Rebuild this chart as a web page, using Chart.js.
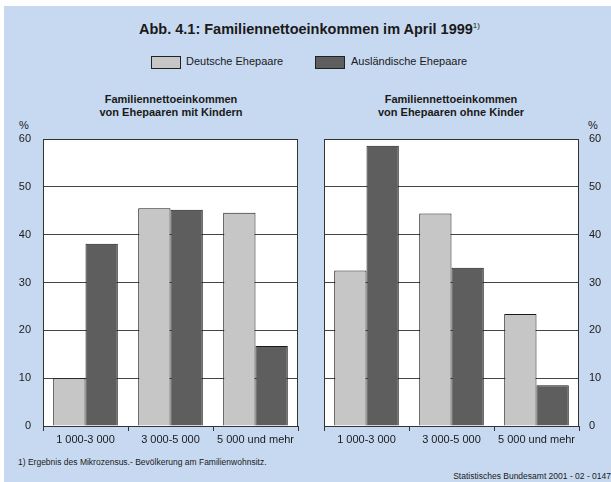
<!DOCTYPE html>
<html>
<head>
<meta charset="utf-8">
<script src="https://cdn.jsdelivr.net/npm/chart.js@4"></script>
<style>
  body { margin: 0; background: #fff; font-family: "Liberation Sans", Arial, sans-serif; color: #1a1a1a; }
  #page { position: absolute; left: 4px; top: 6px; width: 607px; height: 476px; background: #c7d9f0; }
  .t { position: absolute; white-space: nowrap; }
  #title { left: 4px; width: 611px; top: 21px; text-align: center; font-weight: bold; font-size: 14.5px; }
  #title sup { font-size: 8px; font-weight: normal; }
  .sub { top: 93px; width: 300px; text-align: center; font-weight: bold; font-size: 11px; line-height: 13px; }
  .box { position: absolute; top: 56px; width: 28px; height: 11px; border: 1px solid #222; }
  .leg { top: 55px; font-size: 11px; }
  .pct { top: 119px; font-size: 11px; }
  .foot { font-size: 8.5px; }
  canvas { position: absolute; }
</style>
</head>
<body>
<div id="page"></div>
<div class="t" id="title">Abb. 4.1: Familiennettoeinkommen im April 1999<sup>1)</sup></div>
<div class="box" style="left:151px;background:#c6c6c6"></div>
<div class="t leg" style="left:186px">Deutsche Ehepaare</div>
<div class="box" style="left:315px;background:#5e5e5e"></div>
<div class="t leg" style="left:351px">Ausländische Ehepaare</div>
<div class="t sub" style="left:21px">Familiennettoeinkommen<br>von Ehepaaren mit Kindern</div>
<div class="t sub" style="left:301px">Familiennettoeinkommen<br>von Ehepaaren ohne Kinder</div>
<div class="t pct" style="left:19px">%</div>
<div class="t pct" style="left:588px">%</div>
<div class="t foot" style="left:18px;top:457px">1) Ergebnis des Mikrozensus.- Bevölkerung am Familienwohnsitz.</div>
<div class="t foot" style="right:0;top:471px">Statistisches Bundesamt 2001 - 02 - 0147</div>
<canvas id="left" width="305" height="332" style="left:0;top:118px;width:305px;height:332px"></canvas>
<canvas id="right" width="293" height="332" style="left:318px;top:118px;width:293px;height:332px"></canvas>
<script>
const categories = ['1 000-3 000', '3 000-5 000', '5 000 und mehr'];
const seriesNames = ['Deutsche Ehepaare', 'Ausländische Ehepaare'];
const mitKindernDeutsch = [10, 45.5, 44.6];
const mitKindernAusl = [38.1, 45.2, 16.7];
const ohneKinderDeutsch = [32.5, 44.4, 23.4];
const ohneKinderAusl = [58.6, 33.1, 8.5];
const yTicks = [0, 10, 20, 30, 40, 50, 60];

Chart.defaults.font.family = '"Liberation Sans", Arial, sans-serif';
Chart.defaults.color = '#1a1a1a';

// white plot area and frame around it
const plotFrame = {
  id: 'plotFrame',
  beforeDraw(chart) {
    const a = chart.chartArea, c = chart.ctx;
    c.save();
    c.fillStyle = '#fff';
    c.fillRect(a.left, a.top, a.right - a.left, a.bottom - a.top);
    c.restore();
  },
  afterDatasetsDraw(chart) {
    const a = chart.chartArea, c = chart.ctx;
    c.save();
    c.strokeStyle = '#333';
    c.lineWidth = 1;
    c.strokeRect(a.left + 0.5, a.top + 0.5, a.right - a.left - 1, a.bottom - a.top);
    c.restore();
  }
};

function makeChart(id, deutsch, ausl, side) {
  const ctx = document.getElementById(id).getContext('2d');
  const yWidth = side === 'left' ? 43 : 32;
  return new Chart(ctx, {
    type: 'bar',
    data: {
      labels: categories,
      datasets: [
        { label: seriesNames[0], data: deutsch, backgroundColor: '#c6c6c6', borderColor: '#1a1a1a', borderWidth: 1 },
        { label: seriesNames[1], data: ausl, backgroundColor: '#5e5e5e', borderColor: '#1a1a1a', borderWidth: 1 }
      ]
    },
    options: {
      responsive: false,
      animation: false,
      events: [],
      categoryPercentage: 0.76,
      barPercentage: 1,
      layout: { padding: side === 'left' ? { top: 21, right: 7, left: 0, bottom: 0 } : { top: 21, left: 6, right: 0, bottom: 0 } },
      plugins: { legend: { display: false }, tooltip: { enabled: false } },
      scales: {
        x: {
          afterFit(s) { s.height = 24; },
          grid: { offset: true, drawOnChartArea: false, color: '#333', tickLength: 5 },
          border: { color: '#333' },
          ticks: { font: { size: 11 }, padding: 2, maxRotation: 0 }
        },
        y: {
          position: side,
          min: 0,
          max: 60,
          afterFit(s) { s.width = yWidth; },
          afterBuildTicks(s) { s.ticks = yTicks.map(v => ({ value: v })); },
          grid: { color: '#444', drawTicks: false },
          border: { display: false },
          ticks: { font: { size: 11 }, padding: side === 'left' ? 12 : 10 }
        }
      }
    },
    plugins: [plotFrame]
  });
}

makeChart('left', mitKindernDeutsch, mitKindernAusl, 'left');
makeChart('right', ohneKinderDeutsch, ohneKinderAusl, 'right');
</script>
</body>
</html>
